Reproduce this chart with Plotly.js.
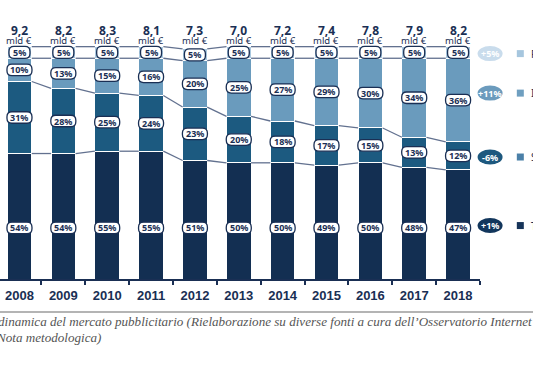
<!DOCTYPE html>
<html>
<head>
<meta charset="utf-8">
<script src="https://cdn.plot.ly/plotly-3.0.1.min.js"></script>
<style>html,body{margin:0;padding:0;background:#fff;}#chart{width:533px;height:373px;}</style>
</head>
<body>
<div id="chart"></div>
<script>
// ---- data ----
var years = ['2008','2009','2010','2011','2012','2013','2014','2015','2016','2017','2018'];
var totals = ['9,2','8,2','8,3','8,1','7,3','7,0','7,2','7,4','7,8','7,9','8,2'];
var tv = [54,54,55,55,51,50,50,49,50,48,47];
var stampa = [31,28,25,24,23,20,18,17,15,13,12];
var internet = [10,13,15,16,20,25,27,29,30,34,36];
var radio = [5,5,5,5,5,5,5,5,5,5,5];
var seriesNames = ['TV','Stampa','Internet','Radio'];
var growth = ['+1%','-6%','+11%','+5%'];

// ---- style ----
var NAVY = '#1a2f54';
var colors = ['#132f52','#1c5a80','#6a9bbd','#a9c8df'];
var legendColors = ['#163459','#4b80a8','#6f9fc0','#a6c6de'];
var bubbleColors = ['#12365c','#1d587e','#6b9bbd','#c9dcec'];
var bubbleY = [23, 52.5, 80, 97];
var YMAX = 102;
var BARW = 0.56;
var series = [tv, stampa, internet, radio];

var traces = [];
series.forEach(function(s, k){
  traces.push({type:'bar', x:years, y:s, name:seriesNames[k],
    marker:{color:colors[k], line:{color:'#ffffff', width:1}},
    width:BARW, hoverinfo:'skip'});
});

// cumulative boundaries
var cum = [];
var run = years.map(function(){return 0;});
series.forEach(function(s){
  run = run.map(function(v,i){return v + s[i];});
  cum.push(run.slice());
});

// connecting lines between bars
cum.forEach(function(c){
  var xs = [], ys = [];
  for (var i = 0; i < years.length - 1; i++) {
    xs.push(i + BARW/2, i + 1 - BARW/2, null);
    ys.push(c[i], c[i+1], null);
  }
  traces.push({type:'scatter', mode:'lines', x:xs, y:ys, xaxis:'x2', yaxis:'y',
    line:{color:'#62718f', width:1.3}, hoverinfo:'skip', connectgaps:false});
});

function rr(w, h, r){
  var a = w/2, b = h/2;
  return 'M ' + (-a+r) + ',' + (-b) + ' L ' + (a-r) + ',' + (-b) +
    ' Q ' + a + ',' + (-b) + ' ' + a + ',' + (-b+r) +
    ' L ' + a + ',' + (b-r) +
    ' Q ' + a + ',' + b + ' ' + (a-r) + ',' + b +
    ' L ' + (-a+r) + ',' + b +
    ' Q ' + (-a) + ',' + b + ' ' + (-a) + ',' + (b-r) +
    ' L ' + (-a) + ',' + (-b+r) +
    ' Q ' + (-a) + ',' + (-b) + ' ' + (-a+r) + ',' + (-b) + ' Z';
}

var shapes = [];
var annotations = [];

// value labels
series.forEach(function(s, k){
  s.forEach(function(v, i){
    var base = k === 0 ? 0 : cum[k-1][i];
    var yy = k === 0 ? 22 : base + v/2;
    var isSmall = (k === 3);
    var w = isSmall ? 21 : 25, h = isSmall ? 12 : 11.5;
    shapes.push({type:'path', xref:'x2', yref:'y', xsizemode:'pixel', ysizemode:'pixel',
      xanchor:i, yanchor:yy, path:rr(w,h,5), fillcolor:'#ffffff',
      line:{color:NAVY, width:1.3}, layer:'above'});
    annotations.push({xref:'x2', yref:'y', x:i, y:yy, text:'<b>'+v+'%</b>', showarrow:false,
      font:{family:'Noto Sans, Open Sans, sans-serif', size:9, color:NAVY},
      xanchor:'center', yanchor:'middle'});
  });
});

// totals above bars
totals.forEach(function(t, i){
  annotations.push({xref:'x2', yref:'paper', x:i, y:1.048, text:'<b>'+t+'</b>', showarrow:false,
    font:{family:'Noto Sans, sans-serif', size:12, color:NAVY}, xanchor:'center', yanchor:'middle'});
  annotations.push({xref:'x2', yref:'paper', x:i, y:1.008, text:'mld €', showarrow:false,
    font:{family:'Noto Sans, sans-serif', size:9.5, color:NAVY}, xanchor:'center', yanchor:'middle'});
});

// growth bubbles & legend squares
growth.forEach(function(g, k){
  var py = bubbleY[k] / YMAX;
  shapes.push({type:'circle', xref:'paper', yref:'paper', xsizemode:'pixel', ysizemode:'pixel',
    xanchor:1.021, yanchor:py, x0:-12.5, x1:12.5, y0:-7.5, y1:7.5,
    fillcolor:bubbleColors[k], line:{width:0}});
  annotations.push({xref:'paper', yref:'paper', x:1.021, y:py, text:'<b>'+g+'</b>', showarrow:false,
    font:{family:'Noto Sans, sans-serif', size:9, color:'#ffffff'}, xanchor:'center', yanchor:'middle'});
  shapes.push({type:'rect', xref:'paper', yref:'paper', xsizemode:'pixel', ysizemode:'pixel',
    xanchor:1.084, yanchor:py, x0:-3.5, x1:3.5, y0:-3.5, y1:3.5,
    fillcolor:legendColors[k], line:{width:0}});
  annotations.push({xref:'paper', yref:'paper', x:1.102, y:py, text:seriesNames[k], showarrow:false,
    font:{family:'Noto Sans, sans-serif', size:10, color:NAVY}, xanchor:'left', yanchor:'middle'});
});

// separator line
shapes.push({type:'line', xref:'paper', yref:'paper', x0:-0.02, x1:1.2, y0:-0.139, y1:-0.139,
  line:{color:'#9b9b9b', width:1.5}});

// caption
annotations.push({xref:'paper', yref:'paper', x:-0.008, y:-0.181, xanchor:'left', yanchor:'middle',
  text:'<i>dinamica del mercato pubblicitario (Rielaborazione su diverse fonti a cura dell’Osservatorio Internet</i>',
  showarrow:false, font:{family:'Liberation Serif, serif', size:13.1, color:'#555555'}});
annotations.push({xref:'paper', yref:'paper', x:-0.012, y:-0.245, xanchor:'left', yanchor:'middle',
  text:'<i>Nota metodologica)</i>',
  showarrow:false, font:{family:'Liberation Serif, serif', size:13.1, color:'#555555'}});

var layout = {
  width:533, height:373,
  margin:{l:0, r:53, t:42, b:94, pad:0},
  paper_bgcolor:'#ffffff', plot_bgcolor:'#ffffff',
  showlegend:false, barmode:'stack',
  xaxis:{type:'category', range:[-0.444, 10.5], tickson:'boundaries', ticks:'outside',
    ticklen:4, tickwidth:2, tickcolor:NAVY, showline:true, linecolor:NAVY, linewidth:2,
    showgrid:false, zeroline:false, fixedrange:true, ticklabelstandoff:3,
    tickfont:{family:'Liberation Sans, Arial, sans-serif', size:13, color:NAVY, weight:'bold'}},
  xaxis2:{overlaying:'x', type:'linear', range:[-0.444, 10.5], visible:false, fixedrange:true},
  yaxis:{range:[0, YMAX], visible:false, fixedrange:true},
  shapes:shapes, annotations:annotations
};

Plotly.newPlot('chart', traces, layout, {displayModeBar:false, staticPlot:true});
</script>
</body>
</html>
